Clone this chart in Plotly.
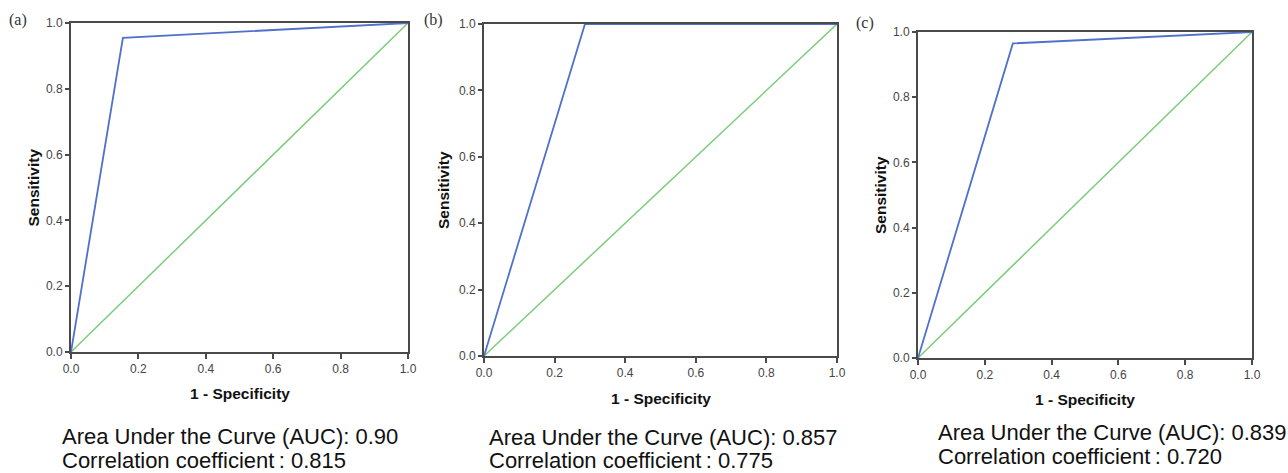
import plotly.graph_objects as go

W, H = 1288, 473

# ---- data ----
panel_labels = ["(a)", "(b)", "(c)"]
roc_x = [[0.0, 0.154, 1.0], [0.0, 0.286, 1.0], [0.0, 0.284, 1.0]]
roc_y = [[0.0, 0.955, 1.0], [0.0, 1.0, 1.0], [0.0, 0.965, 1.0]]
ref_x = [0.0, 1.0]
ref_y = [0.0, 1.0]
auc_values = ["0.90", "0.857", "0.839"]
corr_values = ["0.815", "0.775", "0.720"]
tick_vals = [0.0, 0.2, 0.4, 0.6, 0.8, 1.0]
tick_text = ["0.0", "0.2", "0.4", "0.6", "0.8", "1.0"]

# ---- layout (pixel boxes of each plot area: left, right, top, bottom) ----
boxes = [(71, 408, 23, 352), (484, 837, 24, 356), (918, 1252, 32, 358)]
label_pos = [(18, 20), (433, 20), (865, 23)]
ytitle_x = [33, 443, 880]
xtitle_y = [393, 398, 399]
text_pos = [(60, 436, 460), (487, 437, 460), (936, 432, 456)]

def px(x):
    return x / W

def py(y):
    return 1 - y / H

BLUE = "#4f70cc"
GREEN = "#7dcc7d"
AXC = "#4a4a4a"
FONT = "Arial, Liberation Sans, sans-serif"

fig = go.Figure()
layout = dict(width=W, height=H,
              margin=dict(l=0, r=0, t=0, b=0, pad=0, autoexpand=False),
              paper_bgcolor="white", plot_bgcolor="white", showlegend=False,
              annotations=[])

for i in range(3):
    sfx = "" if i == 0 else str(i + 1)
    xa, ya = "x" + sfx, "y" + sfx
    fig.add_trace(go.Scatter(x=ref_x, y=ref_y, mode="lines", xaxis=xa, yaxis=ya,
                             line=dict(color=GREEN, width=1.5), hoverinfo="skip"))
    fig.add_trace(go.Scatter(x=roc_x[i], y=roc_y[i], mode="lines", xaxis=xa, yaxis=ya,
                             line=dict(color=BLUE, width=1.8), hoverinfo="skip"))
    l, r, t, b = boxes[i]
    common = dict(range=[0, 1], showgrid=False, zeroline=False, showline=True,
                  linecolor=AXC, linewidth=2, mirror=True, ticks="outside",
                  ticklen=5, tickwidth=1.5, tickcolor=AXC, tickvals=tick_vals,
                  ticktext=tick_text, tickfont=dict(family=FONT, size=12, color="#444"),
                  fixedrange=True, automargin=False, layer="above traces")
    layout["xaxis" + sfx] = dict(common, domain=[px(l), px(r)], anchor=ya)
    layout["yaxis" + sfx] = dict(common, domain=[py(b), py(t)], anchor=xa, ticklen=4)

    # panel label
    lx, ly = label_pos[i]
    layout["annotations"].append(dict(text=panel_labels[i], x=px(lx), y=py(ly), xref="paper",
                                      yref="paper", showarrow=False, xanchor="center",
                                      yanchor="middle",
                                      font=dict(family="Times New Roman, Liberation Serif, serif",
                                                size=16, color="#333")))
    # axis titles
    layout["annotations"].append(dict(text="<b>Sensitivity</b>", x=px(ytitle_x[i]),
                                      y=py((t + b) / 2), xref="paper", yref="paper",
                                      showarrow=False, textangle=-90, xanchor="center",
                                      yanchor="middle",
                                      font=dict(family=FONT, size=15.5, color="#111")))
    layout["annotations"].append(dict(text="<b>1 - Specificity</b>", x=px((l + r) / 2),
                                      y=py(xtitle_y[i]), xref="paper", yref="paper",
                                      showarrow=False, xanchor="center", yanchor="middle",
                                      font=dict(family=FONT, size=15.5, color="#111")))
    # bottom texts
    tx, ty1, ty2 = text_pos[i]
    layout["annotations"].append(dict(text="Area Under the Curve (AUC): " + auc_values[i],
                                      x=px(tx), y=py(ty1), xref="paper", yref="paper",
                                      xanchor="left", yanchor="middle", showarrow=False,
                                      font=dict(family=FONT, size=22, color="#111")))
    layout["annotations"].append(dict(text="Correlation coefficient\u2009: " + corr_values[i],
                                      x=px(tx), y=py(ty2), xref="paper", yref="paper",
                                      xanchor="left", yanchor="middle", showarrow=False,
                                      font=dict(family=FONT, size=22, color="#111")))

fig.update_layout(**layout)
fig.write_html("out.html", config={"displayModeBar": False},
               post_script="document.body.style.margin='0';document.body.style.overflow='hidden';")
